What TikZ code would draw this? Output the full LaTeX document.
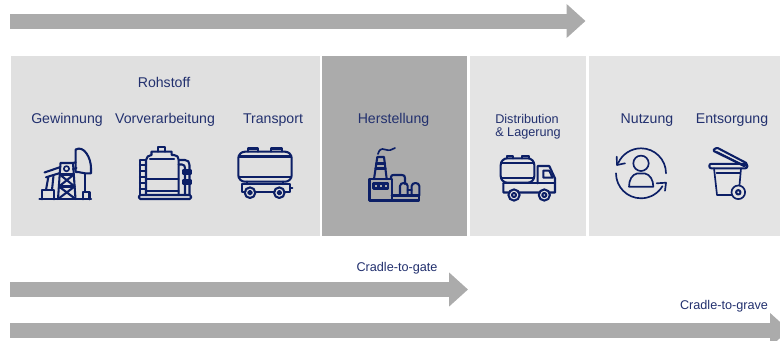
\documentclass[tikz,border=0pt]{standalone}
\usepackage{fontspec}
\setmainfont{Liberation Sans}
\usetikzlibrary{arrows.meta}
\definecolor{panelgrey}{HTML}{E0E0E0}
\definecolor{lightgrey}{HTML}{E4E4E4}
\definecolor{stepgrey}{HTML}{ABABAB}
\definecolor{textblue}{HTML}{22306E}
\definecolor{iconblue}{HTML}{0C1F66}
\tikzset{
    bigarrow/.style={stepgrey, line width=11.25pt, -{Triangle[length=14.25pt, width=24.75pt]}},
    icon/.style={iconblue, line width=1.55pt, line join=round, line cap=round},
    thinicon/.style={iconblue, line width=1.25pt, line join=round, line cap=round},
    lab/.style={text=textblue, inner sep=0pt, font=\fontsize{10.6}{12}\selectfont, text height=10.6pt, text depth=2pt},
    smalllab/.style={text=textblue, inner sep=0pt, font=\fontsize{9.5}{11}\selectfont, text height=8.5pt, text depth=2pt}
}
\begin{document}
\begin{tikzpicture}[x=0.75pt, y=-0.75pt]
    \useasboundingbox (0,0) rectangle (780,340);
    % panels
    \fill[panelgrey] (11,56) rectangle (319.5,236);
    \fill[stepgrey] (321.7,56) rectangle (466.7,236);
    \fill[lightgrey] (469.5,56) rectangle (586,236);
    \fill[lightgrey] (589.3,56) rectangle (780,236);
    % arrows
    \coordinate (topstart) at (10,21);
    \coordinate (topend) at (585.5,21);
    \coordinate (gatestart) at (10,289.5);
    \coordinate (gateend) at (468,289.5);
    \coordinate (gravestart) at (10,330);
    \coordinate (graveend) at (789,330);
    \draw[bigarrow] (topstart) -- (topend);
    \draw[bigarrow] (gatestart) -- (gateend);
    \begin{scope}
    \clip (0,0) rectangle (780,340);
    \draw[bigarrow] (gravestart) -- (graveend);
    \end{scope}
    % labels
    \node[lab] (rohstoff) at (164,82) {Rohstoff};
    \node[lab] (gewinnung) at (67,118) {Gewinnung};
    \node[lab] (vorverarbeitung) at (165,118) {Vorverarbeitung};
    \node[lab] (transport) at (273,118) {Transport};
    \node[lab] (herstellung) at (393.5,118) {Herstellung};
    \node[smalllab, anchor=west] (distribution) at (495,118.7) {Distribution};
    \node[smalllab, anchor=west] (lagerung) at (495,131.7) {\& Lagerung};
    \node[lab] (nutzung) at (647,118) {Nutzung};
    \node[lab] (entsorgung) at (732,118) {Entsorgung};
    \node[smalllab] (gate) at (397,267) {Cradle-to-gate};
    \node[smalllab] (grave) at (724,305.5) {Cradle-to-grave};
    % pump jack
    \draw[icon] (39.5,199.3) -- (91,199.3);
    \draw[icon] (42,199.3) -- (42,190) -- (54,190) -- (54,199.3);
    \draw[icon] (44.5,172.5) -- (60.5,167) (73,163) -- (75.7,162.3) (76.5,168) -- (73,169) (60,173) -- (46,177.3) -- cycle;
    \draw[icon] (48.3,177) -- (46,190) (53.5,175.5) -- (52,190);
    \draw[icon] (58,199) -- (60.5,163) -- (73,163) -- (75.5,199);
    \draw[icon] (59.8,174.5) -- (73.8,174.5) (59,186.5) -- (74.6,186.5);
    \draw[icon] (59.8,174.5) -- (74.6,186.5) (73.8,174.5) -- (59,186.5);
    \draw[icon] (59,186.5) -- (75.5,199) (74.6,186.5) -- (58,199);
    \draw[thinicon] (66.5,168.7) circle (2.6);
    \draw[icon] (75.7,172) -- (75.7,149.5) .. controls (84,145) and (91,158) .. (91,168) -- (91,173.3) -- (85,173.3) -- (78,172) -- cycle;
    \draw[icon] (85,173.3) -- (85,191.7);
    \draw[icon] (83.3,199.3) -- (83.3,191.7) -- (89.5,191.7) -- (89.5,199.3);
    % process tank
    \draw[icon, rounded corners=1pt] (139,195) rectangle (191,199);
    \draw[icon] (146,195) -- (146,160) .. controls (146,157) and (149,155) .. (151.5,155) -- (151.5,151.7) -- (171.7,151.7) -- (171.7,155) -- (174,155) .. controls (177,155) and (178.7,157) .. (178.7,160) -- (178.7,195);
    \draw[icon] (158.3,151.7) -- (158.3,146.7) -- (165,146.7) -- (165,151.7);
    \draw[icon] (150,159.3) -- (174,159.3);
    \draw[icon] (146,179.3) -- (178.7,179.3) (146,190.7) -- (178.7,190.7);
    \draw[icon] (140,160) -- (146,160) (140,160) -- (140,195);
    \foreach \rung in {165,171,177,183,189}
        \draw[icon] (140,\rung) -- (146,\rung);
    \draw[icon] (178.7,160) -- (185,160) .. controls (188,160) and (189.5,162) .. (189.5,165) -- (189.5,195);
    \draw[icon] (178.7,164.5) -- (182,164.5) .. controls (184,164.5) and (185,166) .. (185,168) -- (185,195);
    \draw[icon] (183,170.5) rectangle (191,173.5);
    \draw[icon] (183,180.5) rectangle (191,183.5);
    % tank wagon
    \draw[icon, rounded corners=5pt] (238.3,151.7) rectangle (291.7,181.7);
    \draw[icon] (239,156.5) -- (291,156.5) (239,176.7) -- (291,176.7);
    \draw[icon] (248.3,151.7) -- (248.3,148.5) -- (258.3,148.5) -- (258.3,151.7);
    \draw[icon] (271,151.7) -- (271,148.5) -- (281.7,148.5) -- (281.7,151.7);
    \draw[icon] (246.7,181.7) -- (246.7,184) (283,181.7) -- (283,184);
    \draw[icon] (241.7,184) rectangle (290,191.7);
    \draw[icon] (290,188) -- (292.3,188);
    \foreach \cx in {250,279.3} {
        \fill[panelgrey] (\cx,192.7) circle (4.1);
        \draw[icon] (\cx,192.7) circle (5.3);
        \draw[icon] (\cx,192.7) circle (1.8);
    }
    % factory
    \draw[icon] (369.5,179) rectangle (391.7,200.5);
    \draw[icon] (391.7,195.5) -- (419.3,195.5) -- (419.3,200.5) -- (391.7,200.5);
    \draw[icon] (374,179) -- (377.3,157) -- (384,157) -- (386.7,179);
    \draw[icon] (376.2,163.5) -- (385,163.5) (375.5,168.5) -- (385.6,168.5);
    \draw[icon] (373.5,183.5) rectangle (388.3,188.5);
    \draw[icon] (378.5,183.5) -- (378.5,188.5) (383.5,183.5) -- (383.5,188.5);
    \draw[icon] (391,179) -- (391,177) .. controls (391,175.5) and (392,175) .. (393.5,175) -- (402,175) .. controls (404,175) and (405,176) .. (405,178) -- (405,184);
    \draw[icon] (400,195.5) -- (400,186) .. controls (400,182) and (407.7,182) .. (407.7,186) -- (407.7,195.5);
    \draw[icon] (411.7,195.5) -- (411.7,186) .. controls (411.7,182) and (419.3,182) .. (419.3,186) -- (419.3,195.5);
    \draw[icon] (407.7,190) -- (411.7,190);
    \draw[thinicon] (378,154) .. controls (379,150) and (381,148) .. (385,149.5) .. controls (389,151) and (392,150) .. (395,148);
    % tank truck
    \draw[icon, rounded corners=5pt] (500.7,158.3) rectangle (534.3,182.7);
    \draw[icon] (501.5,163.3) -- (533.5,163.3) (501.5,178.3) -- (533.5,178.3);
    \draw[icon] (506.7,158.3) -- (506.7,156) -- (513.3,156) -- (513.3,158.3);
    \draw[icon] (522.3,158.3) -- (522.3,156) -- (529.3,156) -- (529.3,158.3);
    \draw[icon] (503.3,183.3) -- (503.3,192.5) -- (555,192.5) -- (555,178.3) -- (549.3,166) -- (537.7,166) -- (537.7,183.3);
    \draw[icon] (503.3,183.3) -- (555,183.3);
    \draw[icon] (543.3,170.7) -- (549.3,170.7) -- (552.7,177.7) -- (543.3,177.7) -- cycle;
    \foreach \cx in {514,544.3} {
        \fill[lightgrey] (\cx,195) circle (4.5);
        \draw[icon] (\cx,195) circle (5.6);
        \draw[icon] (\cx,195) circle (2);
    }
    % use cycle
    \draw[thinicon] (666,173.3) arc[start angle=0, end angle=156, radius=25*0.75pt];
    \draw[thinicon] (616,173.3) arc[start angle=180, end angle=329, radius=25*0.75pt];
    \draw[thinicon] (616.7,156.7) -- (617,165) -- (625,163.3);
    \draw[thinicon] (656.7,183.3) -- (666,182.7) -- (665,190.7);
    \draw[thinicon] (641,163.3) circle (7.7);
    \draw[thinicon] (629,186.7) .. controls (629,180) and (632,174.5) .. (637,173.5) -- (645,173.5) .. controls (650,174.5) and (653.3,180) .. (653.3,186.7) -- cycle;
    % wheelie bin
    \draw[icon, rounded corners=1.5pt] (709.3,163.8) rectangle (747.3,168.3);
    \draw[icon, rounded corners=1pt] (712.7,150.5) -- (716.7,147.5) -- (747.3,163.5) -- (745,166.5) -- cycle;
    \draw[thinicon] (717,152) -- (742,164.5);
    \draw[thinicon] (714,168.3) -- (717,195) -- (732,195);
    \draw[thinicon] (741,168.3) -- (739.5,185);
    \draw[icon] (716.7,172.7) -- (740,172.7);
    \fill[lightgrey] (738.3,192.3) circle (5);
    \draw[thinicon] (738.3,192.3) circle (6.8);
    \draw[icon] (738.3,192.3) circle (2.2);
\end{tikzpicture}
\end{document}
